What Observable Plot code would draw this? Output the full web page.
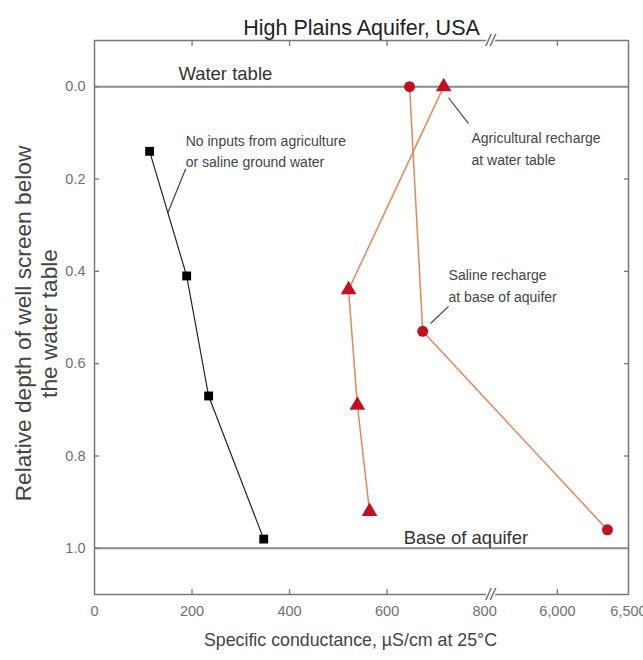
<!DOCTYPE html>
<html><head><meta charset="utf-8">
<script src="https://cdn.jsdelivr.net/npm/d3@7"></script>
<script src="https://cdn.jsdelivr.net/npm/@observablehq/plot@0.6"></script>
<style>body{margin:0;background:#fff}</style>
</head><body><div id="chart"></div>
<script>
// Series values (specific conductance, relative depth)
const noInputsX = [113, 189, 234, 347];
const noInputsDepth = [0.14, 0.41, 0.67, 0.98];
const agriX = [716, 521, 539, 564];
const agriDepth = [0.0, 0.44, 0.69, 0.92];
const salineX = [646, 673, 6352];
const salineDepth = [0.0, 0.53, 0.96];

// Axis ticks / labels
const xTickLabels = [0, 200, 400, 600, 800, 6000, 6500];
const xTickMarks = [200, 400, 600, 6000];
const yTicks = [0, 0.2, 0.4, 0.6, 0.8, 1.0];
const boundaryDepths = [0, 1];
const xBreakLow = 812, xBreakHigh = 5530;

const title = "High Plains Aquifer, USA";
const xLabel = "Specific conductance, µS/cm at 25°C";
const yLabel = "Relative depth of well screen below\nthe water table";

const boundaryLabels = [
  {text: "Water table", x: 172, y: -0.028},
  {text: "Base of aquifer", x: 634, y: 0.978}
];
const notes = [
  {text: "No inputs from agriculture\nor saline ground water", x: 187, y: 0.136},
  {text: "Agricultural recharge\nat water table", x: 773, y: 0.130},
  {text: "Saline recharge\nat base of aquifer", x: 726, y: 0.427}
];
const leaders = [
  {x1: 187, y1: 0.178, x2: 150, y2: 0.274},
  {x1: 726, y1: 0.024, x2: 767, y2: 0.080},
  {x1: 689, y1: 0.513, x2: 726, y2: 0.476}
];

const noInputs = noInputsX.map((x, i) => ({x, depth: noInputsDepth[i]}));
const agri = agriX.map((x, i) => ({x, depth: agriDepth[i]}));
const saline = salineX.map((x, i) => ({x, depth: salineDepth[i]}));

const W = 643, H = 660, mL = 94, mR = 15, mT = 40, mB = 66;
const red = "#c40f1f", orange = "#e5875a";
const font = "'Liberation Sans', Arial, sans-serif";
const blank = () => "";

const chart = Plot.plot({
  width: W, height: H,
  marginLeft: mL, marginRight: mR, marginTop: mT, marginBottom: mB,
  style: {fontFamily: font, fontSize: "14.5px", color: "#707070", background: "#fff"},
  x: {type: "linear", domain: [0, xBreakLow, xBreakHigh, 6500], range: [mL, 490, 490, W - mR], label: null},
  y: {domain: [-0.1, 1.1], reverse: true, label: null},
  marks: [
    Plot.ruleY(boundaryDepths, {stroke: "#8a8a8a", strokeWidth: 2}),
    Plot.frame({stroke: "#777", strokeWidth: 1.5}),
    // tick labels
    Plot.axisX({anchor: "bottom", ticks: xTickLabels, tickSize: 0, tickPadding: 11, tickFormat: d3.format(","), fontSize: 14.5}),
    Plot.axisY({anchor: "left", ticks: yTicks, tickSize: 0, tickPadding: 9, tickFormat: d3.format(".1f"), fontSize: 14.5}),
    // inward tick marks
    Plot.axisX({anchor: "bottom", ticks: xTickMarks, tickSize: 5, dy: -5, tickFormat: blank, stroke: "#777", strokeWidth: 1.3}),
    Plot.axisX({anchor: "top", ticks: xTickMarks, tickSize: 5, dy: 5, tickFormat: blank, stroke: "#777", strokeWidth: 1.3}),
    Plot.axisY({anchor: "left", ticks: yTicks, tickSize: 5, dx: 5, tickFormat: blank, stroke: "#777", strokeWidth: 1.3}),
    Plot.axisY({anchor: "right", ticks: yTicks.slice(1, -1), tickSize: 5, dx: -5, tickFormat: blank, stroke: "#777", strokeWidth: 1.3}),
    // axis break marks
    Plot.text([{y: -0.1}, {y: 1.1}], {x: () => xBreakLow, y: "y", text: () => "//", fontSize: 16, fontStyle: "italic", fill: "#555", stroke: "white", strokeWidth: 3, paintOrder: "stroke"}),
    Plot.line(noInputs, {x: "x", y: "depth", stroke: "#222", strokeWidth: 1.2}),
    Plot.line(agri, {x: "x", y: "depth", stroke: orange, strokeWidth: 1.5}),
    Plot.line(saline, {x: "x", y: "depth", stroke: orange, strokeWidth: 1.5}),
    Plot.dot(noInputs, {x: "x", y: "depth", symbol: "square", r: 5, fill: "#000"}),
    Plot.dot(agri, {x: "x", y: "depth", symbol: "triangle", r: 5.8, fill: red}),
    Plot.dot(saline, {x: "x", y: "depth", symbol: "circle", r: 5.5, fill: red}),
    Plot.link(leaders, {x1: "x1", y1: "y1", x2: "x2", y2: "y2", stroke: "#444", strokeWidth: 1.2}),
    Plot.text(boundaryLabels, {x: "x", y: "y", text: "text", textAnchor: "start", fontSize: 18.5, fill: "#333"}),
    Plot.text(notes, {x: "x", y: "y", text: "text", textAnchor: "start", lineAnchor: "middle", fontSize: 14, lineHeight: 1.57, fill: "#444"}),
    Plot.text([title], {frameAnchor: "top", lineAnchor: "bottom", dy: -6, fontSize: 21.5, fill: "#222"}),
    Plot.text([xLabel], {frameAnchor: "bottom", dx: -11, dy: 51, fontSize: 17.8, fill: "#444"}),
    Plot.text([yLabel], {frameAnchor: "left", textAnchor: "middle", rotate: -90, dx: -59, dy: 6, fontSize: 22.7, lineHeight: 1.15, fill: "#444"})
  ]
});
document.getElementById("chart").appendChild(chart);
</script>
</body></html>
